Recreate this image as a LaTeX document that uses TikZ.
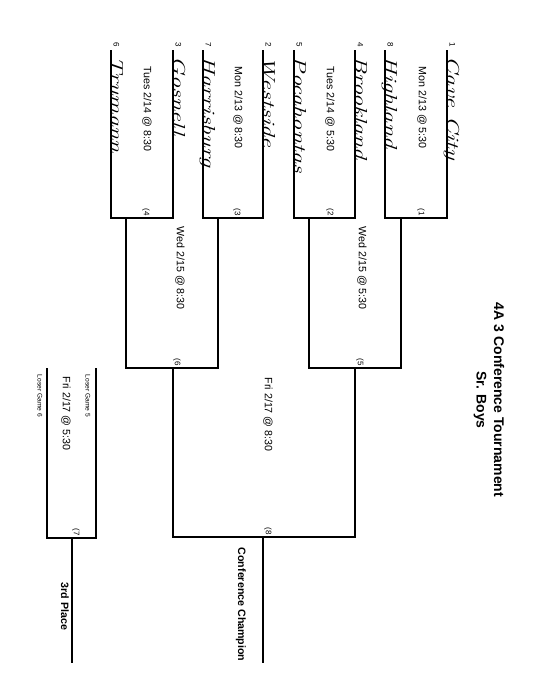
\documentclass[tikz,border=0pt]{standalone}
\usepackage{fontspec}
\setmainfont{Liberation Sans}
\newfontfamily\handfont{Latin Modern Roman}
\usetikzlibrary{positioning}

\tikzset{
  bracket/.style={line width=1.1pt},
  game/.style={rotate=-90, anchor=west, font=\fontsize{8}{9}\selectfont},
  gameno/.style={rotate=-90, font=\fontsize{6}{7}\selectfont},
  seed/.style={rotate=-90, font=\fontsize{6}{7}\selectfont},
  loser/.style={rotate=-90, anchor=west, font=\fontsize{5}{6}\selectfont},
  winner/.style={rotate=-90, anchor=west, font=\bfseries\fontsize{8}{9}\selectfont},
  heading/.style={rotate=-90, font=\bfseries\fontsize{10.5}{12}\selectfont},
  team/.style={rotate=-90, anchor=base west, inner sep=1pt,
    font=\handfont\itshape\fontsize{13}{13}\selectfont}
}
\newcommand{\wide}[1]{\scalebox{1.4}[1]{#1}}

\begin{document}
\begin{tikzpicture}[x=0.75pt, y=-0.75pt]
  \useasboundingbox (0,0) rectangle (541,700);

  % Title
  \node[heading] (title) at (499,400) {4A 3 Conference Tournament};
  \node[heading] (sub) at (480,400) {Sr. Boys};

  % Team lines (round 1)
  \foreach \name/\x/\s/\team in {cave/447/1/Cave City, high/385/8/Highland,
      brook/355/4/Brookland, poca/294/5/Pocahontas, west/263/2/Westside,
      harr/203/7/Harrisburg, gos/173/3/Gosnell, tru/111/6/Trumann} {
    \coordinate (\name) at (\x,50);
    \node[seed] (seed-\name) at ([xshift=4pt,yshift=4pt]\name) {\s};
    \node[team] (team-\name) at ([yshift=-4pt]\name) {\wide{\team}};
  }

  % Round 1 games
  \coordinate (g1) at (401,218);
  \coordinate (g2) at (309,218);
  \coordinate (g3) at (218,218);
  \coordinate (g4) at (126,218);
  \draw[bracket] (cave) |- (g1) -| (high);
  \draw[bracket] (brook) |- (g2) -| (poca);
  \draw[bracket] (west) |- (g3) -| (harr);
  \draw[bracket] (gos) |- (g4) -| (tru);
  \node[game] (d1) at (422,62) {Mon 2/13 @ 5:30};
  \node[game] (d2) at (330,62) {Tues 2/14 @ 5:30};
  \node[game] (d3) at (238,62) {Mon 2/13 @ 8:30};
  \node[game] (d4) at (147,62) {Tues 2/14 @ 8:30};
  \node[gameno] (n1) at (421,212) {(1};
  \node[gameno] (n2) at (330,212) {(2};
  \node[gameno] (n3) at (237,212) {(3};
  \node[gameno] (n4) at (146,212) {(4};

  % Round 2 games
  \coordinate (g5) at (355,368);
  \coordinate (g6) at (173,368);
  \draw[bracket] (g1) |- (g5) -| (g2);
  \draw[bracket] (g3) |- (g6) -| (g4);
  \node[game] (d5) at (362,222) {Wed 2/15 @ 5:30};
  \node[game] (d6) at (180,222) {Wed 2/15 @ 8:30};
  \node[gameno] (n5) at (360,362) {(5};
  \node[gameno] (n6) at (177,362) {(6};

  % Final
  \coordinate (g8) at (263,537);
  \coordinate (champ) at (263,663);
  \draw[bracket] (g5) |- (g8) -| (g6);
  \draw[bracket] (g8) -- (champ);
  \node[game] (d8) at (268,373) {Fri 2/17 @ 8:30};
  \node[gameno] (n8) at (268,531) {(8};
  \node[winner] (w8) at (241,543) {Conference Champion};

  % 3rd place game
  \coordinate (l5) at (96,368);
  \coordinate (l6) at (47,368);
  \coordinate (g7) at (72,538);
  \coordinate (third) at (72,663);
  \draw[bracket] (l5) |- (g7) -| (l6);
  \draw[bracket] (g7) -- (third);
  \node[loser] (ln5) at (88,370) {Loser Game 5};
  \node[loser] (ln6) at (40,370) {Loser Game 6};
  \node[game] (d7) at (66,372) {Fri 2/17 @ 5:30};
  \node[gameno] (n7) at (76,532) {(7};
  \node[winner] (w7) at (65,578) {3rd Place};
\end{tikzpicture}
\end{document}
